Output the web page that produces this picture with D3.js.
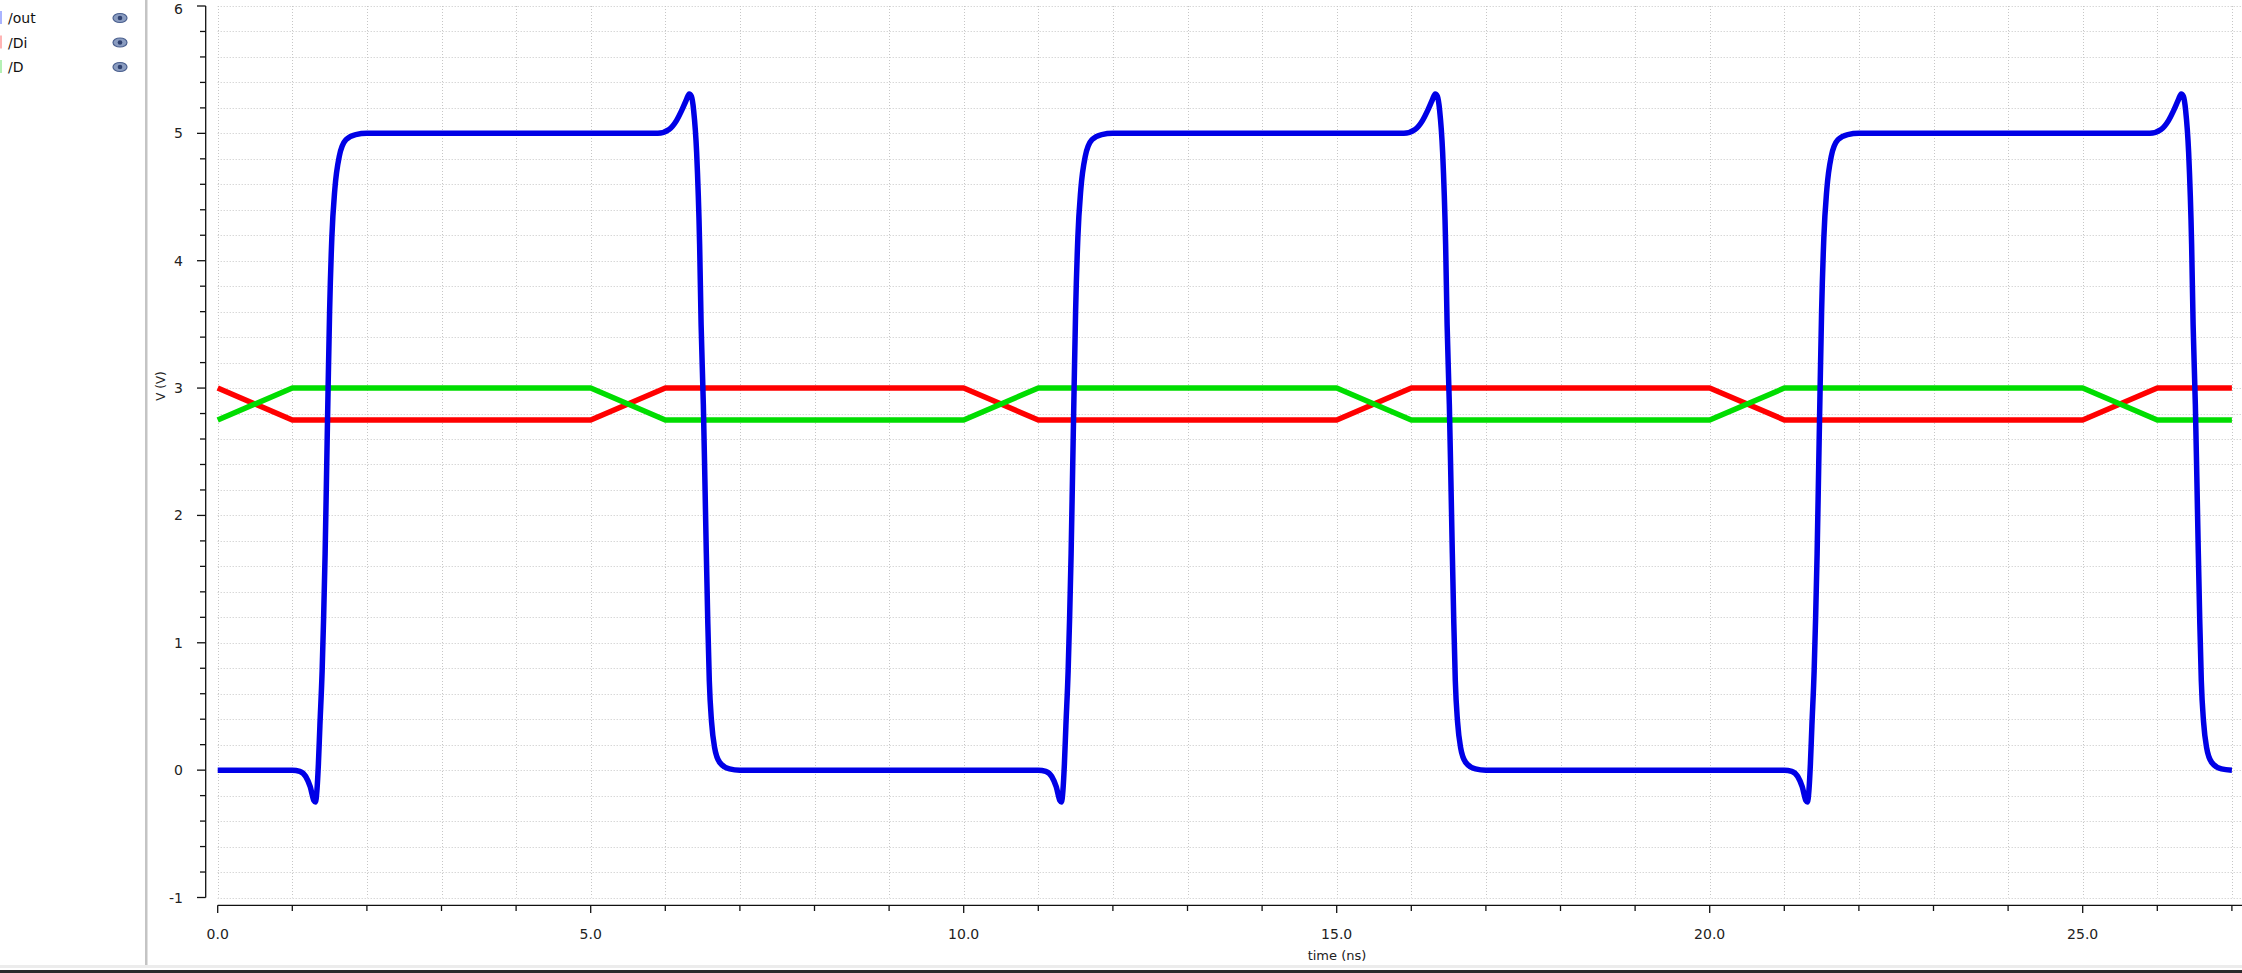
<!DOCTYPE html>
<html>
<head>
<meta charset="utf-8">
<script src="https://cdn.jsdelivr.net/npm/d3@7"></script>
<style>
  html, body { margin: 0; padding: 0; background: #fff; overflow: hidden; }
  svg { display: block; font-family: "DejaVu Sans", Verdana, sans-serif; }
</style>
</head>
<body>
<svg id="chart" width="2242" height="973"></svg>
<script>
// ---- data ----
const seriesNames = ["/out", "/Di", "/D"];
const seriesColors = ["#0000e6", "#ff0000", "#00dd00"];
const legendSwatch = ["#aab4ff", "#ffb4b4", "#b4f0b4"];

const outTime = [
  0, 1.0, 1.1, 1.18, 1.24, 1.29, 1.31, 1.33, 1.35, 1.37, 1.40, 1.42, 1.44, 1.46, 1.48, 1.50, 1.53, 1.57, 1.63, 1.72, 1.85, 2.0,
  5.9, 6.05, 6.15, 6.22, 6.28, 6.32, 6.35, 6.38, 6.42, 6.46, 6.48, 6.51, 6.53, 6.55, 6.57, 6.59, 6.62, 6.66, 6.73, 6.86, 7.0,
  10.0, 11.0, 11.1, 11.18, 11.24, 11.29, 11.31, 11.33, 11.35, 11.37, 11.40, 11.42, 11.44, 11.46, 11.48, 11.50, 11.53, 11.57, 11.63, 11.72, 11.85, 12.0,
  15.9, 16.05, 16.15, 16.22, 16.28, 16.32, 16.35, 16.38, 16.42, 16.46, 16.48, 16.51, 16.53, 16.55, 16.57, 16.59, 16.62, 16.66, 16.73, 16.86, 17.0,
  20.0, 21.0, 21.1, 21.18, 21.24, 21.29, 21.31, 21.33, 21.35, 21.37, 21.40, 21.42, 21.44, 21.46, 21.48, 21.50, 21.53, 21.57, 21.63, 21.72, 21.85, 22.0,
  25.9, 26.05, 26.15, 26.22, 26.28, 26.32, 26.35, 26.38, 26.42, 26.46, 26.48, 26.51, 26.53, 26.55, 26.57, 26.59, 26.62, 26.66, 26.73, 26.86, 27.0
];
const outV = [
  0, 0, -0.01, -0.05, -0.13, -0.24, -0.25, -0.16, 0.05, 0.35, 0.78, 1.2, 1.7, 2.35, 3.0, 3.6, 4.18, 4.56, 4.82, 4.95, 4.99, 5.0,
  5.0, 5.03, 5.1, 5.18, 5.26, 5.31, 5.29, 5.18, 4.85, 4.13, 3.5, 2.87, 2.3, 1.7, 1.15, 0.7, 0.38, 0.18, 0.06, 0.01, 0,
  0, 0, -0.01, -0.05, -0.13, -0.24, -0.25, -0.16, 0.05, 0.35, 0.78, 1.2, 1.7, 2.35, 3.0, 3.6, 4.18, 4.56, 4.82, 4.95, 4.99, 5.0,
  5.0, 5.03, 5.1, 5.18, 5.26, 5.31, 5.29, 5.18, 4.85, 4.13, 3.5, 2.87, 2.3, 1.7, 1.15, 0.7, 0.38, 0.18, 0.06, 0.01, 0,
  0, 0, -0.01, -0.05, -0.13, -0.24, -0.25, -0.16, 0.05, 0.35, 0.78, 1.2, 1.7, 2.35, 3.0, 3.6, 4.18, 4.56, 4.82, 4.95, 4.99, 5.0,
  5.0, 5.03, 5.1, 5.18, 5.26, 5.31, 5.29, 5.18, 4.85, 4.13, 3.5, 2.87, 2.3, 1.7, 1.15, 0.7, 0.38, 0.18, 0.06, 0.01, 0
];

const diTime = [0, 1, 5, 6, 10, 11, 15, 16, 20, 21, 25, 26, 27];
const diV    = [3, 2.75, 2.75, 3, 3, 2.75, 2.75, 3, 3, 2.75, 2.75, 3, 3];
const dTime  = [0, 1, 5, 6, 10, 11, 15, 16, 20, 21, 25, 26, 27];
const dV     = [2.75, 3, 3, 2.75, 2.75, 3, 3, 2.75, 2.75, 3, 3, 2.75, 2.75];

const yMajorTicks = [-1, 0, 1, 2, 3, 4, 5, 6];
const xMajorTicks = [0, 5, 10, 15, 20, 25];
const xTickLabels = ["0.0", "5.0", "10.0", "15.0", "20.0", "25.0"];
const xAxisTitle = "time (ns)";
const yAxisTitle = "V (V)";

// ---- layout ----
const W = 2242, H = 973;
const svg = d3.select("#chart");
const x = d3.scaleLinear().domain([0, 27]).range([217.7, 2231.9]);
const y = d3.scaleLinear().domain([-1, 6]).range([897.5, 6]);
const plotRight = W;

// left panel separator & bottom bars
svg.append("rect").attr("x", 145).attr("y", 0).attr("width", 2.5).attr("height", 966).attr("fill", "#c4c4c4");
svg.append("rect").attr("x", 0).attr("y", 965).attr("width", W).attr("height", 3).attr("fill", "#ececec");
svg.append("rect").attr("x", 0).attr("y", 970).attr("width", W).attr("height", 3).attr("fill", "#2a2a2a");

// legend
const leg = svg.append("g");
seriesNames.forEach((n, i) => {
  const cy = 18 + i * 24.5;
  leg.append("rect").attr("x", 0).attr("y", cy - 7).attr("width", 2).attr("height", 13).attr("fill", legendSwatch[i]);
  leg.append("text").attr("x", 8).attr("y", cy + 5).attr("font-size", 14).attr("fill", "#111").text(n);
  leg.append("ellipse").attr("cx", 120).attr("cy", cy).attr("rx", 7).attr("ry", 4.5)
     .attr("fill", "#8a9cc0").attr("stroke", "#4a5f8e").attr("stroke-width", 1.2);
  leg.append("circle").attr("cx", 120).attr("cy", cy).attr("r", 2.3).attr("fill", "#2f4170");
});

// grid
const grid = svg.append("g").attr("stroke", "#c6c6c6").attr("stroke-width", 1).attr("stroke-dasharray", "1,2");
const yMinor = d3.range(-1, 6.0001, 0.2).map(v => +v.toFixed(1));
grid.selectAll("line.h").data(yMinor).join("line")
  .attr("x1", x(0)).attr("x2", plotRight)
  .attr("y1", d => Math.round(y(d)) + 0.5).attr("y2", d => Math.round(y(d)) + 0.5);
const xMinor = d3.range(0, 28, 1);
grid.selectAll("line.v").data(xMinor).join("line")
  .attr("y1", y(6)).attr("y2", y(-1))
  .attr("x1", d => Math.round(x(d)) + 0.5).attr("x2", d => Math.round(x(d)) + 0.5);

// y axis
const yAx = svg.append("g").attr("stroke", "#111").attr("stroke-width", 1.3);
yAx.append("line").attr("x1", 205.7).attr("x2", 205.7).attr("y1", y(6)).attr("y2", y(-1));
yAx.selectAll("line.t").data(yMinor).join("line")
  .attr("x1", d => yMajorTicks.includes(d) ? 197 : 200).attr("x2", 205.7)
  .attr("y1", d => y(d)).attr("y2", d => y(d));
svg.append("g").selectAll("text").data(yMajorTicks).join("text")
  .attr("x", 183).attr("y", d => Math.max(y(d) + 5, 14)).attr("text-anchor", "end")
  .attr("font-size", 14).attr("fill", "#222").text(d => d);
svg.append("text").attr("transform", "translate(165,386) rotate(-90)")
  .attr("text-anchor", "middle").attr("font-size", 12).attr("fill", "#222").text(yAxisTitle);

// x axis
const xAx = svg.append("g").attr("stroke", "#111").attr("stroke-width", 1.3);
xAx.append("line").attr("x1", x(0)).attr("x2", plotRight).attr("y1", 905.3).attr("y2", 905.3);
xAx.selectAll("line.t").data(xMinor).join("line")
  .attr("x1", d => x(d)).attr("x2", d => x(d))
  .attr("y1", 905.3).attr("y2", d => xMajorTicks.includes(d) ? 913 : 911);
svg.append("g").selectAll("text").data(xMajorTicks).join("text")
  .attr("x", d => x(d)).attr("y", 939).attr("text-anchor", "middle")
  .attr("font-size", 14).attr("fill", "#222").text((d, i) => xTickLabels[i]);
svg.append("text").attr("x", 1337).attr("y", 960).attr("text-anchor", "middle")
  .attr("font-size", 13).attr("fill", "#222").text(xAxisTitle);

// series
const smooth = d3.line().x(d => x(d[0])).y(d => y(d[1])).curve(d3.curveMonotoneX);
const straight = d3.line().x(d => x(d[0])).y(d => y(d[1]));
const series = [
  { t: diTime, v: diV, c: seriesColors[1], gen: straight },
  { t: dTime, v: dV, c: seriesColors[2], gen: straight },
  { t: outTime, v: outV, c: seriesColors[0], gen: smooth }
];
const plot = svg.append("g");
series.forEach(s => {
  const pts = s.t.map((t, i) => [t, s.v[i]]);
  plot.append("path").datum(pts).attr("d", s.gen)
    .attr("fill", "none").attr("stroke", s.c).attr("stroke-width", 5.5)
    .attr("stroke-linejoin", "round").attr("stroke-linecap", "butt");
});
</script>
</body>
</html>
